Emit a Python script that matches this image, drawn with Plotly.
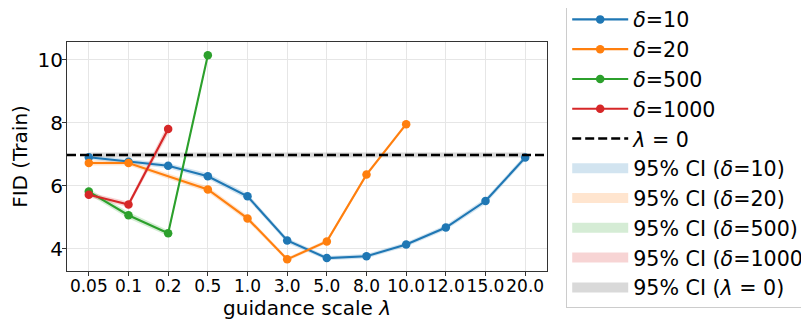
import plotly.graph_objects as go

# ---------------- data ----------------
categories = ["0.05", "0.1", "0.2", "0.5", "1.0", "3.0", "5.0", "8.0", "10.0", "12.0", "15.0", "20.0"]

d10_x = ["0.05", "0.1", "0.2", "0.5", "1.0", "3.0", "5.0", "8.0", "10.0", "12.0", "15.0", "20.0"]
d10_y = [6.90, 6.76, 6.63, 6.30, 5.66, 4.26, 3.70, 3.76, 4.13, 4.67, 5.51, 6.89]
d10_ci = [0.07, 0.07, 0.08, 0.09, 0.09, 0.08, 0.07, 0.07, 0.07, 0.08, 0.09, 0.09]

d20_x = ["0.05", "0.1", "0.5", "1.0", "3.0", "5.0", "8.0", "10.0"]
d20_y = [6.72, 6.72, 5.88, 4.96, 3.66, 4.23, 6.35, 7.95]
d20_ci = [0.08, 0.08, 0.09, 0.09, 0.06, 0.06, 0.06, 0.06]

d500_x = ["0.05", "0.1", "0.2", "0.5"]
d500_y = [5.81, 5.06, 4.49, 10.14]
d500_ci = [0.09, 0.10, 0.09, 0.06]

d1000_x = ["0.05", "0.1", "0.2"]
d1000_y = [5.71, 5.40, 7.80]
d1000_ci = [0.08, 0.09, 0.17]

baseline_fid = 6.97
baseline_ci = 0.08

series = [
    ("<i>δ</i>=10", d10_x, d10_y, d10_ci, "#1f77b4", "rgba(31,119,180,0.2)", "95% CI (<i>δ</i>=10)"),
    ("<i>δ</i>=20", d20_x, d20_y, d20_ci, "#ff7f0e", "rgba(255,127,14,0.2)", "95% CI (<i>δ</i>=20)"),
    ("<i>δ</i>=500", d500_x, d500_y, d500_ci, "#2ca02c", "rgba(44,160,44,0.2)", "95% CI (<i>δ</i>=500)"),
    ("<i>δ</i>=1000", d1000_x, d1000_y, d1000_ci, "#d62728", "rgba(214,39,40,0.2)", "95% CI (<i>δ</i>=1000)\u00a0\u00a0"),
]

FONT = "DejaVu Sans"
fig = go.Figure()

# CI bands (drawn first); legend shown by a patch-like proxy entry
for i, (name, xs, ys, ci, col, fcol, ciname) in enumerate(series):
    upper = [y + c for y, c in zip(ys, ci)]
    lower = [y - c for y, c in zip(ys, ci)]
    fig.add_trace(go.Scatter(
        x=xs + xs[::-1], y=upper + lower[::-1], fill="toself", fillcolor=fcol,
        mode="lines", line=dict(width=0, color=fcol), name=ciname,
        legendgroup=f"ci{i}", showlegend=False, hoverinfo="skip"))
    fig.add_trace(go.Scatter(
        x=[None], y=[None], mode="lines", line=dict(width=15, color=fcol),
        name=ciname, legendgroup=f"ci{i}", legendrank=10 + i))

fig.add_trace(go.Scatter(
    x=[categories[0], categories[-1], categories[-1], categories[0]],
    y=[baseline_fid + baseline_ci, baseline_fid + baseline_ci,
       baseline_fid - baseline_ci, baseline_fid - baseline_ci],
    fill="toself", fillcolor="rgba(128,128,128,0.3)", mode="lines",
    line=dict(width=0, color="rgba(128,128,128,0.3)"),
    name="95% CI (<i>λ</i> = 0)", legendgroup="ci_base", showlegend=False,
    hoverinfo="skip"))
fig.add_trace(go.Scatter(
    x=[None], y=[None], mode="lines",
    line=dict(width=15, color="rgba(128,128,128,0.3)"),
    name="95% CI (<i>λ</i> = 0)", legendgroup="ci_base", legendrank=14))

# baseline dashed line across the full axis width
fig.add_trace(go.Scatter(
    x=[0, 1], y=[baseline_fid, baseline_fid], xaxis="x2", mode="lines",
    line=dict(color="black", width=2.5, dash="9px,4px"),
    name="<i>λ</i> = 0", legendrank=5))

for i, (name, xs, ys, ci, col, fcol, ciname) in enumerate(series):
    fig.add_trace(go.Scatter(
        x=xs, y=ys, mode="lines+markers", name=name,
        line=dict(color=col, width=2.1), marker=dict(color=col, size=8.5),
        legendrank=1 + i))

axis_common = dict(
    showline=True, linecolor="#333333", linewidth=1.1, mirror=True,
    ticks="outside", ticklen=4, tickcolor="#333333", tickwidth=1,
    showgrid=True, gridcolor="#e6e6e6", gridwidth=1, zeroline=False,
)

# page body has an 8px default margin, margins below compensate for it
fig.update_layout(
    width=809, height=321,
    margin=dict(l=59, r=270, t=34, b=58, autoexpand=False),
    paper_bgcolor="white", plot_bgcolor="white",
    font=dict(family=FONT, color="black"),
    xaxis=dict(type="category", categoryorder="array", categoryarray=categories,
               range=[-0.55, 11.55], tickfont=dict(size=17), tickangle=0,
               ticklabelstandoff=-4,
               title=dict(text="guidance scale <i>λ</i>", font=dict(size=20), standoff=5),
               **axis_common),
    xaxis2=dict(overlaying="x", range=[0, 1], visible=False),
    yaxis=dict(range=[3.29, 10.56], tickvals=[4, 6, 8, 10], tickfont=dict(size=20),
               ticklabelstandoff=-5,
               title=dict(text="FID (Train)", font=dict(size=20), standoff=9),
               **axis_common),
    legend=dict(x=1.04, y=1.19, xanchor="left", yanchor="top",
                font=dict(size=20.6), bordercolor="#cccccc", borderwidth=1,
                bgcolor="white", itemwidth=56, tracegroupgap=0, maxheight=340),
    showlegend=True,
)

fig.write_html("out.html")
